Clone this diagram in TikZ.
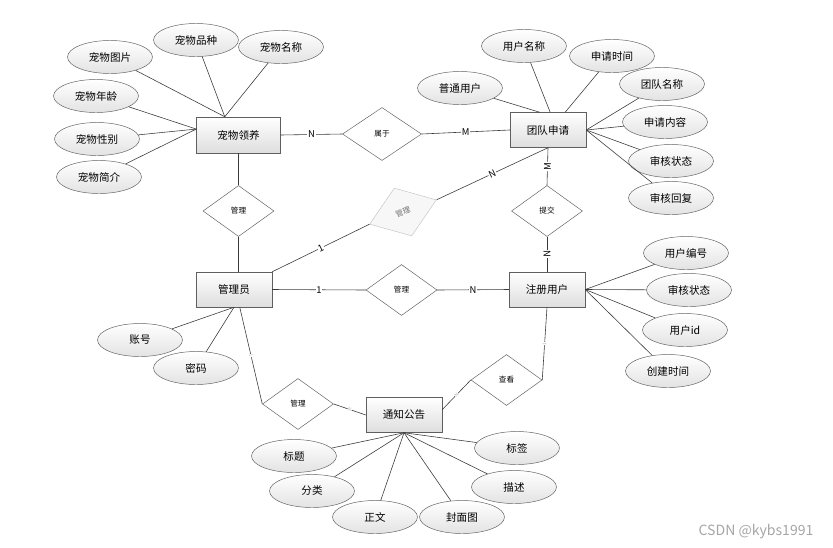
\documentclass[tikz,border=0pt]{standalone}
\usepackage{fontspec}
\usepackage{xcolor}
\usepackage{tikz}
\usetikzlibrary{shapes.geometric, positioning, calc, shadows}
\newfontfamily\cjk{Noto Sans CJK SC}
\definecolor{edgegray}{HTML}{5F5F5F}
\definecolor{linegray}{HTML}{3A3A3A}
\definecolor{fadegray}{HTML}{B0B0B0}
\definecolor{markgray}{HTML}{C4C4C4}
\tikzset{
  % ER entities
  entity/.style={rectangle, draw=edgegray, top color=white, bottom color=black!13,
                 minimum width=2.28cm, minimum height=1.05cm, inner sep=0pt,
                 drop shadow={opacity=0.2, shadow xshift=0.7pt, shadow yshift=-0.7pt},
                 font=\cjk\fontsize{9}{11}\selectfont},
  % attribute ellipses
  attr/.style={ellipse, draw=edgegray, top color=white, bottom color=black!11,
               minimum width=2.55cm, minimum height=0.99cm, inner sep=0pt,
               font=\cjk\fontsize{9}{11}\selectfont},
  % relationship diamonds
  relship/.style={diamond, draw=edgegray, fill=white,
                  minimum width=2.13cm, minimum height=1.53cm, inner sep=0pt,
                  font=\cjk\fontsize{6.5}{8}\selectfont},
  % connector lines and their cardinalities
  link/.style={draw=linegray, line width=0.5pt},
  card/.style={fill=white, inner sep=0.6pt, font=\cjk\fontsize{8}{9}\selectfont},
  tinycard/.style={fill=white, inner sep=0.3pt, text=fadegray, sloped,
                   font=\cjk\fontsize{4}{5}\selectfont},
}

\begin{document}
\begin{tikzpicture}[x=0.03cm, y=-0.03cm]
\useasboundingbox (0,0) rectangle (833,547);

% ── Entities ────────────────────────────────────────────────────────────────
\node[entity, minimum width=2.52cm, minimum height=1.08cm]
                 (adopt)   at (238.5,135) {宠物领养};
\node[entity]    (team)    at (548,130)   {团队申请};
\node[entity]    (admin)   at (234,289.5) {管理员};
\node[entity]    (reguser) at (547,289.5) {注册用户};
\node[entity]    (notice)  at (404,415)   {通知公告};

% ── Relationships ───────────────────────────────────────────────────────────
\node[relship, minimum width=2.37cm, minimum height=1.59cm]
                 (belong)  at (382,134)   {属于};
\node[relship]   (mgpet)   at (238.5,211) {管理};
\node[relship, rotate=20, draw=markgray, fill=black!3, text=black!55]
                 (mgteam)  at (403,212)   {管理};
\node[relship]   (submit)  at (547,211)   {提交};
\node[relship]   (mguser)  at (401.5,290) {管理};
\node[relship]   (mgnote)  at (298,404)   {管理};
\node[relship]   (view)    at (506.5,380) {查看};

% ── Attributes: 宠物领养 ─────────────────────────────────────────────────────
\node[attr] (pimg)   at (110,57)  {宠物图片};
\node[attr] (pbreed) at (196,40)  {宠物品种};
\node[attr] (pname)  at (281,47)  {宠物名称};
\node[attr] (page)   at (96,96)   {宠物年龄};
\node[attr] (psex)   at (97,139)  {宠物性别};
\node[attr] (pintro) at (99,177)  {宠物简介};

% ── Attributes: 团队申请 ─────────────────────────────────────────────────────
\node[attr] (normal)  at (460,88)  {普通用户};
\node[attr] (uname)   at (524,46)  {用户名称};
\node[attr] (atime)   at (612,56)  {申请时间};
\node[attr] (tname)   at (662,84)  {团队名称};
\node[attr] (content) at (665,122) {申请内容};
\node[attr] (tstate)  at (671,161) {审核状态};
\node[attr] (reply)   at (671,198) {审核回复};

% ── Attributes: 注册用户 ─────────────────────────────────────────────────────
\node[attr] (uno)    at (686,253) {用户编号};
\node[attr] (ustate) at (689,290) {审核状态};
\node[attr] (uid)    at (685,330) {用户id};
\node[attr] (ctime)  at (668,371) {创建时间};

% ── Attributes: 管理员 ───────────────────────────────────────────────────────
\node[attr] (acct) at (140,340) {账号};
\node[attr] (pwd)  at (196,368) {密码};

% ── Attributes: 通知公告 ─────────────────────────────────────────────────────
\node[attr] (ttl)   at (294,456) {标题};
\node[attr] (cat)   at (312,491) {分类};
\node[attr] (body)  at (375,517) {正文};
\node[attr] (cover) at (462,517) {封面图};
\node[attr] (tag)   at (517,448) {标签};
\node[attr] (desc)  at (514,487) {描述};

% ── Attribute lines ─────────────────────────────────────────────────────────
\foreach \a in {pimg, pbreed, pname} \draw[link] (\a) -- (adopt.127);
\foreach \a in {page, psex, pintro}  \draw[link] (\a) -- (adopt.172);

\draw[link] (normal) -- (team.115);
\draw[link] (uname)  -- (team.83);
\draw[link] (atime)  -- (team.46);
\foreach \a in {tname, content, tstate, reply} \draw[link] (\a) -- (team.east);

\foreach \a in {uno, ustate, uid, ctime} \draw[link] (\a) -- (reguser.east);

\foreach \a in {acct, pwd} \draw[link] (\a) -- (admin.south);

\foreach \a in {ttl, cat, body, cover, tag, desc} \draw[link] (\a) -- (notice.south);

% ── Relationship lines ──────────────────────────────────────────────────────
\draw[link] (adopt.east)  -- node[card]{N} (belong.west);
\draw[link] (belong.east) -- node[card]{M} (team.west);

\draw[link] (adopt.south) -- (mgpet.north);
\draw[link] (mgpet.south) -- (mgpet.south |- admin.north);

\draw[link] (admin.north east) -- node[card, sloped]{1} (mgteam.west);
\draw[link] (mgteam.east) -- node[card, sloped]{N} (team.south);

\draw[link] (team.south)   -- node[card, sloped]{M} (submit.north);
\draw[link] (submit.south) -- node[card, sloped]{N} (reguser.north);

\draw[link] (admin.east)  -- node[card]{1} (mguser.west);
\draw[link] (mguser.east) -- node[card]{N} (reguser.west);

\draw[link] (admin.-72)   -- node[tinycard]{1} (mgnote.west);
\draw[link] (mgnote.east) -- node[tinycard]{N} (notice.west);
\draw[link] (view.west)   -- node[tinycard]{N} (notice.8);
\draw[link] (view.east)   -- node[tinycard]{1} (reguser.south);

% ── Watermark ───────────────────────────────────────────────────────────────
\node[text=black!35, font=\cjk\fontsize{12}{14}\selectfont] (mark) at (756,532)
  {CSDN @kybs1991};

\end{tikzpicture}
\end{document}
